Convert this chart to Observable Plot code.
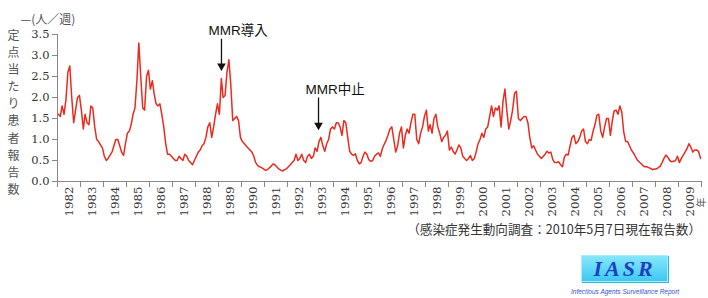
<!DOCTYPE html>
<html><head><meta charset="utf-8">
<script src="https://cdn.jsdelivr.net/npm/d3@7"></script>
<script src="https://cdn.jsdelivr.net/npm/@observablehq/plot@0.6"></script>
<style>
body{margin:0;background:#fff;width:708px;height:298px;overflow:hidden;position:relative;}
#chart{position:absolute;left:0;top:0;}
#caption{position:absolute;right:7px;top:221px;font-size:12.6px;line-height:16px;color:#333;font-family:"Noto Sans CJK JP",sans-serif;white-space:nowrap;}
#logo{position:absolute;left:581px;top:255px;width:87px;height:27px;box-sizing:border-box;background:linear-gradient(#86e6fc,#3ec9f1);border:1px solid #a9eefc;box-shadow:1px 1px 0 #2fb5df;text-align:center;font:italic bold 22px/25px "Liberation Serif",serif;color:#1e3fc2;letter-spacing:3px;}
#sub{position:absolute;left:571px;top:288px;font:italic 6.5px/8px "Liberation Sans",sans-serif;color:#3355cc;white-space:nowrap;}
</style></head><body>
<div id="chart"></div>
<div id="caption">（感染症発生動向調査：2010年5月7日現在報告数）</div>
<div id="logo">IASR</div>
<div id="sub">Infectious Agents Surveillance Report</div>
<script>
// Monthly values (reports per sentinel site per week)
const v1982 = [1.6, 1.55, 1.8, 1.6, 1.95, 2.6, 2.75, 2.0, 1.4, 1.7, 2.0, 2.05];
const v1983 = [1.7, 1.25, 1.6, 1.4, 1.35, 1.8, 1.75, 1.3, 1.0, 0.95, 0.87, 0.8];
const v1984 = [0.6, 0.5, 0.55, 0.63, 0.7, 0.85, 1.0, 1.0, 0.85, 0.7, 0.62, 0.9];
const v1985 = [1.15, 1.2, 1.35, 1.6, 1.75, 2.4, 3.3, 2.5, 1.75, 1.7, 2.5, 2.65];
const v1986 = [2.2, 2.4, 2.1, 1.85, 1.8, 1.85, 1.6, 1.3, 0.9, 0.65, 0.65, 0.6];
const v1987 = [0.55, 0.5, 0.5, 0.6, 0.55, 0.5, 0.65, 0.6, 0.5, 0.45, 0.4, 0.5];
const v1988 = [0.6, 0.7, 0.75, 0.85, 0.9, 1.05, 1.3, 1.4, 1.05, 1.3, 1.6, 1.85];
const v1989 = [1.6, 2.45, 2.0, 2.05, 2.6, 2.9, 2.3, 1.45, 1.5, 1.55, 1.45, 1.05];
const v1990 = [0.95, 0.9, 0.85, 0.8, 0.75, 0.7, 0.6, 0.45, 0.38, 0.35, 0.33, 0.3];
const v1991 = [0.27, 0.28, 0.32, 0.36, 0.42, 0.4, 0.35, 0.3, 0.27, 0.25, 0.28, 0.3];
const v1992 = [0.35, 0.4, 0.45, 0.5, 0.65, 0.5, 0.55, 0.65, 0.5, 0.45, 0.6, 0.65];
const v1993 = [0.55, 0.6, 0.8, 0.72, 0.95, 1.05, 0.85, 0.72, 0.9, 1.0, 1.25, 1.3];
const v1994 = [1.25, 1.4, 1.4, 1.3, 1.1, 1.45, 1.4, 1.05, 0.72, 0.65, 0.62, 0.66];
const v1995 = [0.5, 0.42, 0.45, 0.6, 0.7, 0.65, 0.52, 0.48, 0.5, 0.6, 0.65, 0.68];
const v1996 = [0.6, 0.78, 0.88, 0.98, 1.1, 1.25, 1.3, 1.0, 0.7, 0.85, 1.15, 1.3];
const v1997 = [0.8, 1.1, 1.25, 1.15, 1.4, 1.6, 1.6, 1.0, 0.9, 1.15, 1.3, 1.55];
const v1998 = [1.7, 1.2, 1.35, 1.15, 1.5, 1.6, 1.3, 1.15, 0.95, 1.05, 1.1, 1.2];
const v1999 = [0.75, 0.82, 0.72, 0.65, 0.75, 0.87, 0.8, 0.6, 0.55, 0.5, 0.55, 0.62];
const v2000 = [0.5, 0.55, 0.7, 0.9, 1.0, 1.15, 1.05, 1.25, 1.3, 1.55, 1.8, 1.55];
const v2001 = [1.75, 1.7, 1.8, 1.3, 1.9, 2.2, 1.7, 1.25, 1.45, 1.7, 2.1, 2.15];
const v2002 = [1.5, 1.45, 1.5, 1.55, 1.55, 1.4, 1.05, 0.8, 0.85, 0.75, 0.65, 0.6];
const v2003 = [0.55, 0.6, 0.65, 0.72, 0.68, 0.7, 0.52, 0.45, 0.45, 0.47, 0.4, 0.35];
const v2004 = [0.58, 0.65, 0.63, 0.85, 1.05, 1.1, 0.9, 0.95, 1.05, 1.2, 1.25, 0.95];
const v2005 = [0.9, 1.0, 0.98, 1.2, 1.35, 1.58, 1.6, 1.2, 1.05, 1.3, 1.5, 1.5];
const v2006 = [1.1, 1.45, 1.68, 1.7, 1.6, 1.8, 1.65, 1.18, 0.95, 0.95, 0.85, 0.75];
const v2007 = [0.68, 0.6, 0.52, 0.47, 0.43, 0.38, 0.35, 0.35, 0.33, 0.31, 0.28, 0.3];
const v2008 = [0.3, 0.33, 0.36, 0.45, 0.55, 0.63, 0.58, 0.5, 0.47, 0.48, 0.5, 0.6];
const v2009 = [0.45, 0.55, 0.62, 0.7, 0.78, 0.9, 0.82, 0.7, 0.75, 0.75, 0.72, 0.55];

const firstYear = 1982;
const yearSeries = [v1982, v1983, v1984, v1985, v1986, v1987, v1988, v1989, v1990, v1991,
  v1992, v1993, v1994, v1995, v1996, v1997, v1998, v1999, v2000, v2001, v2002, v2003,
  v2004, v2005, v2006, v2007, v2008, v2009];
const yTicks = [0, 0.5, 1.0, 1.5, 2.0, 2.5, 3.0, 3.5];
const yLabel = "定点当たり患者報告数";
const unitLabel = "—(人／週)";
const annotations = [
  {label: "MMR導入", year: 1989, month: 1, day: 17, top: 3.40, tip: 2.70, textY: 3.60},
  {label: "MMR中止", year: 1993, month: 4, day: 8, top: 2.00, tip: 1.29, textY: 2.19}
];

const data = yearSeries.flatMap((vals, i) =>
  vals.map((v, m) => ({date: new Date(Date.UTC(firstYear + i, m, 15)), value: v})));
const years = yearSeries.map((_, i) => firstYear + i);
const yearStarts = [...years, firstYear + years.length].map(y => new Date(Date.UTC(y, 0, 1)));
const yearMids = years.map(y => new Date(Date.UTC(y, 6, 2)));
const ann = annotations.map(a => ({...a, date: new Date(Date.UTC(a.year, a.month, a.day))}));

const serif = "DejaVu Serif, serif";
const jp = "Noto Sans CJK JP, sans-serif";

const chart = Plot.plot({
  width: 708, height: 215,
  marginLeft: 57, marginRight: 7, marginTop: 34, marginBottom: 34,
  x: {type: "utc", domain: [yearStarts[0], yearStarts[yearStarts.length - 1]]},
  y: {domain: [0, 3.5]},
  style: {background: "white", overflow: "visible"},
  marks: [
    Plot.axisY({ticks: yTicks, tickFormat: d3.format(".1f"), tickSize: 5, tickPadding: 3,
      fontSize: 11.5, fontFamily: serif, fill: "#333", stroke: "#888"}),
    Plot.axisX(yearStarts, {tickSize: 6, tickFormat: () => "", stroke: "#888"}),
    Plot.axisX(yearMids, {tickSize: 0, tickPadding: 5, tickRotate: -90,
      tickFormat: d => String(d.getUTCFullYear()), fontSize: 11.8, fontFamily: serif, fill: "#3a3a3a"}),
    Plot.ruleX([yearStarts[0]], {stroke: "#888"}),
    Plot.ruleY([0], {stroke: "#888"}),
    Plot.line(data, {x: "date", y: "value", stroke: "#ec2a1e", strokeWidth: 1.5}),
    Plot.link(ann, {x1: "date", x2: "date", y1: "top", y2: "tip", stroke: "#111", strokeWidth: 1.3}),
    Plot.dot(ann, {x: "date", y: "tip", symbol: "triangle", rotate: 180, r: 3.2, fill: "#111", dy: -2}),
    Plot.text(ann, {x: "date", y: "textY", text: "label", textAnchor: "start", dx: -13,
      fontSize: 13.5, fontFamily: "Liberation Sans, Noto Sans CJK JP, sans-serif", fill: "#111"}),
    Plot.text([yLabel.split("").join("\n")], {text: d => d, frameAnchor: "top-left", dx: -44, dy: -7,
      lineAnchor: "top", lineHeight: 1.43, fontSize: 12, fill: "#555", textAnchor: "middle", fontFamily: jp}),
    Plot.text([unitLabel], {text: d => d, frameAnchor: "top-left", dx: -37, dy: -19,
      textAnchor: "start", fontSize: 12, fill: "#555", fontFamily: jp}),
    Plot.text(["年"], {text: d => d, frameAnchor: "bottom-right", dx: 3, dy: 16, rotate: -90,
      fontSize: 10, fill: "#555", fontFamily: jp})
  ]
});
document.getElementById("chart").appendChild(chart);
</script>
</body></html>
